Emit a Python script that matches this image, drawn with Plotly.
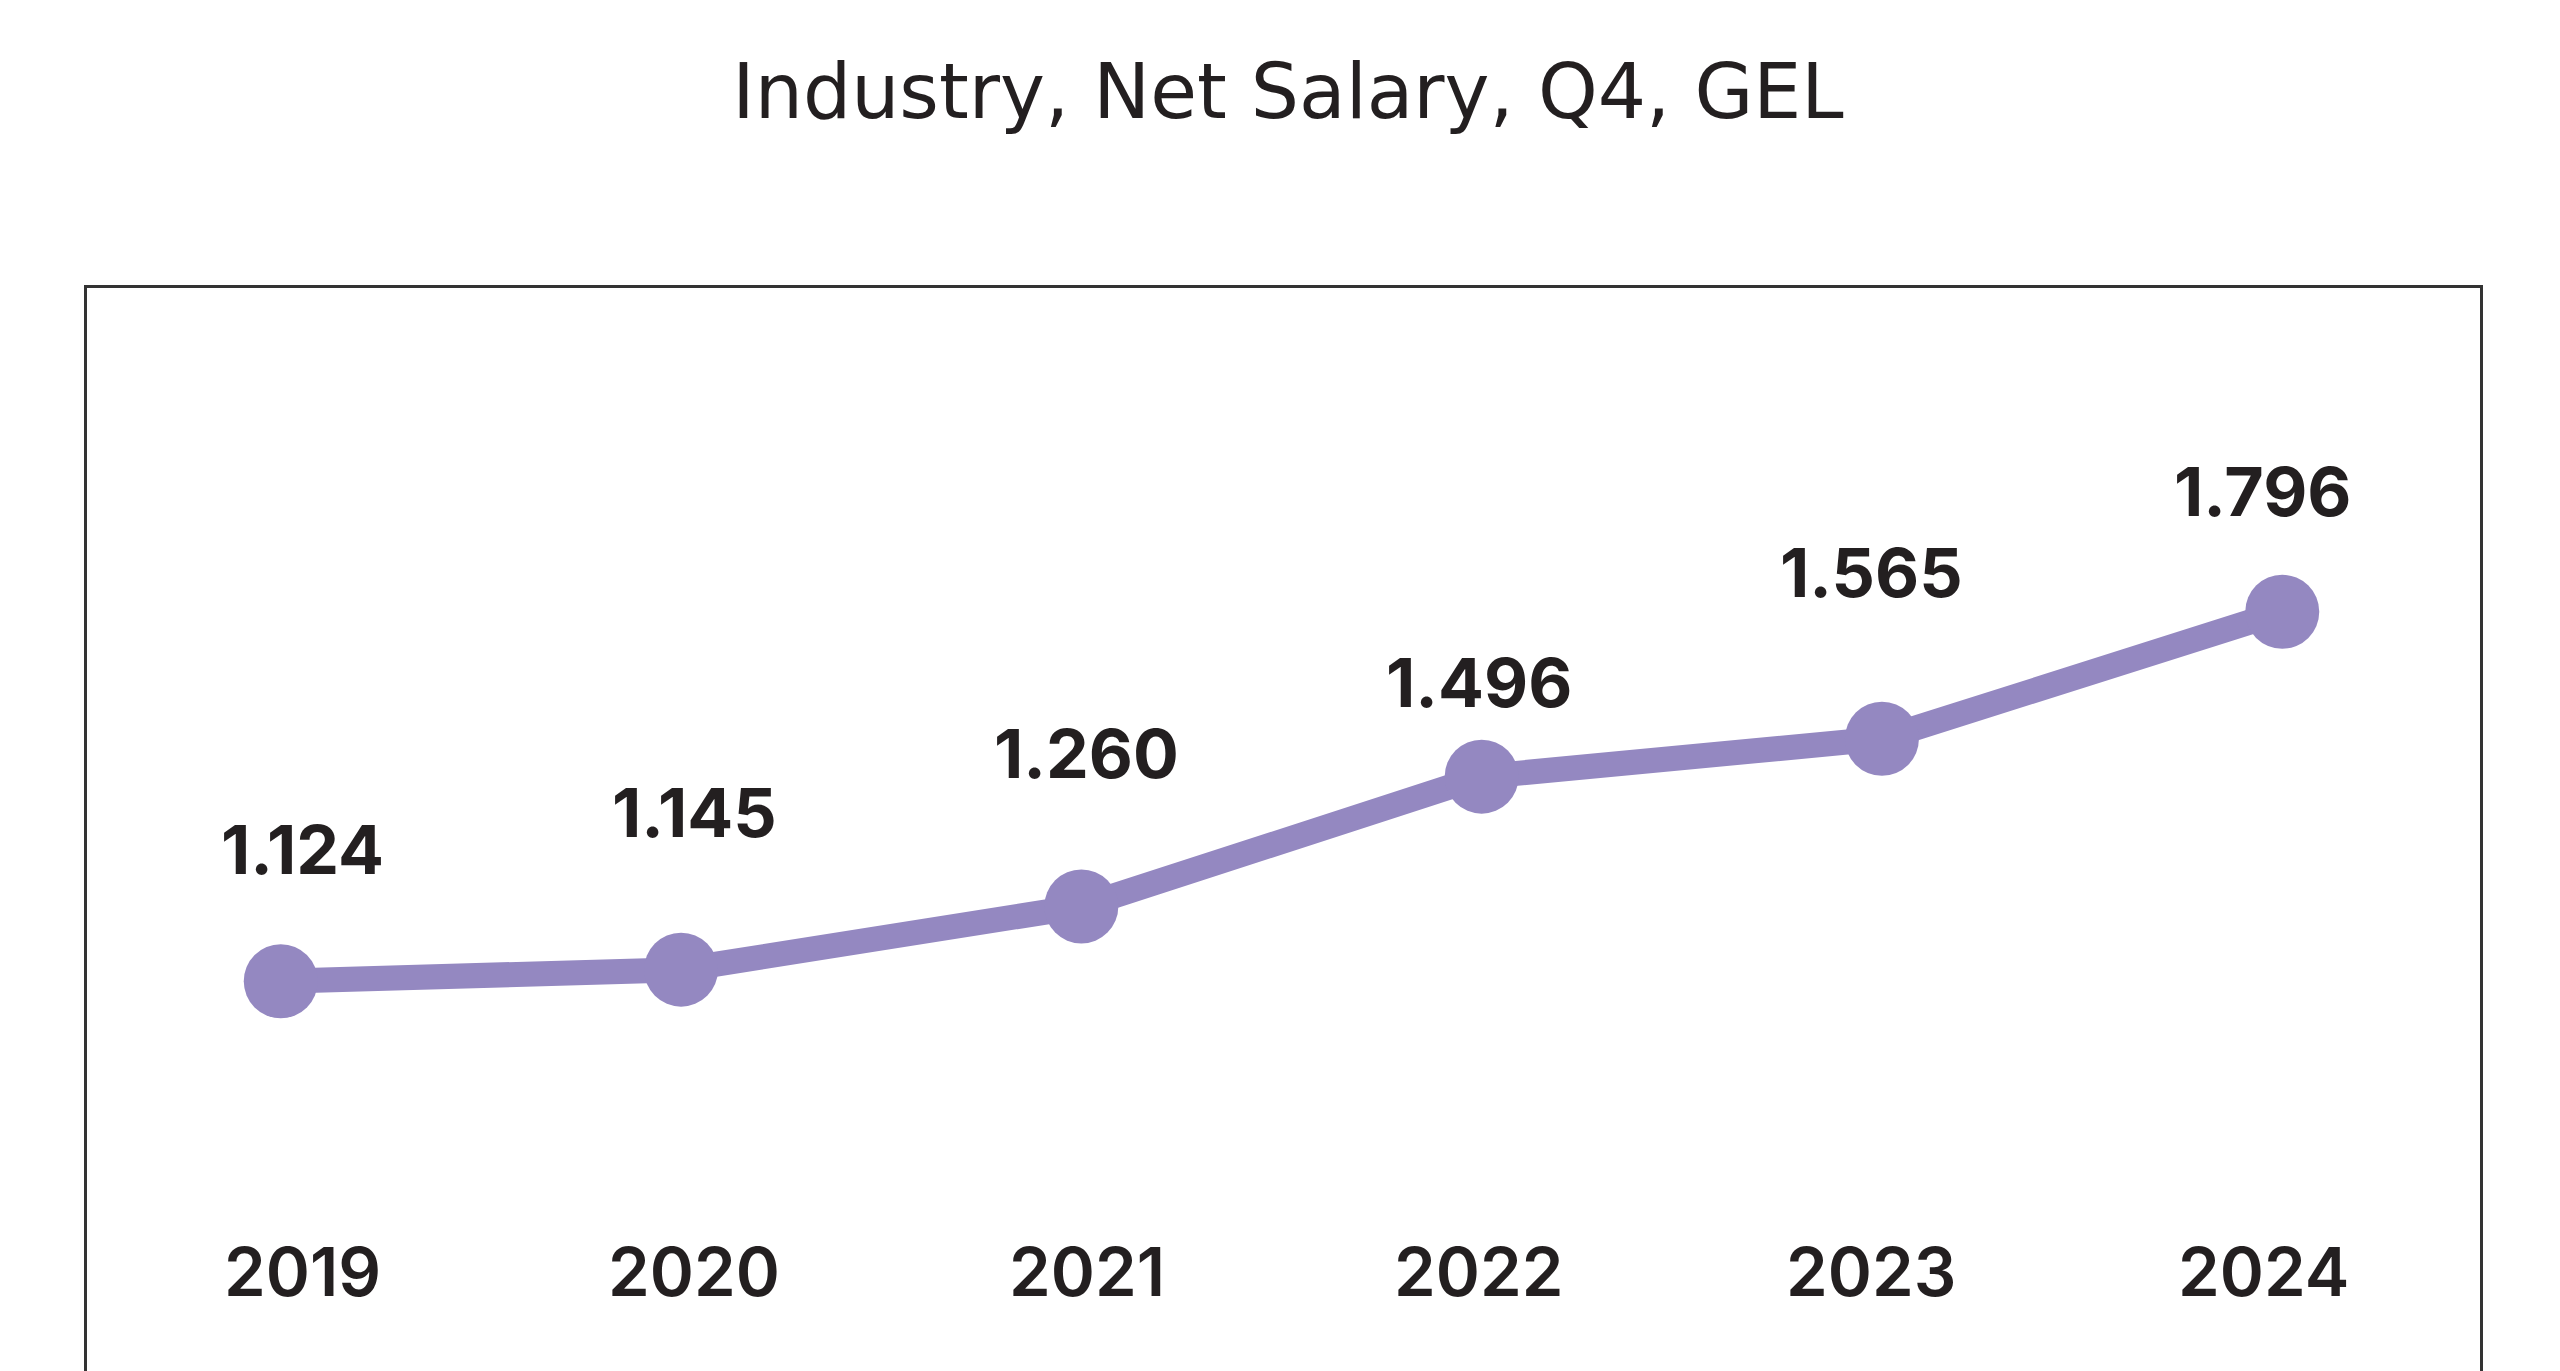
import plotly.graph_objects as go

years = [2019, 2020, 2021, 2022, 2023, 2024]
year_labels = ["2019", "2020", "2021", "2022", "2023", "2024"]
salary = [1.124, 1.145, 1.260, 1.496, 1.565, 1.796]
salary_labels = ["1.124", "1.145", "1.260", "1.496", "1.565", "1.796"]

# vertical offsets (px) of each value label above its marker
label_offsets = [132, 158, 153, 95, 167, 121]

LINE_COLOR = "#9488c1"
TEXT_COLOR = "#231f20"

fig = go.Figure()
fig.add_trace(go.Scatter(
    x=years, y=salary, mode="lines+markers",
    line=dict(color=LINE_COLOR, width=25),
    marker=dict(color=LINE_COLOR, size=74),
    hoverinfo="skip", showlegend=False,
))

annotations = []
for x, y, t, off in zip(years, salary, salary_labels, label_offsets):
    annotations.append(dict(
        x=x, y=y, xref="x2", yref="y", text=t, showarrow=False,
        yshift=off, yanchor="middle",
        font=dict(family="Inter", size=68, color=TEXT_COLOR, weight=700),
    ))
for x, t in zip(years, year_labels):
    annotations.append(dict(
        x=x, y=0.096, xref="x2", yref="paper", text=t, showarrow=False,
        yanchor="middle",
        font=dict(family="Inter", size=67, color=TEXT_COLOR, weight=600),
    ))

fig.update_layout(
    width=2560, height=1371,
    margin=dict(l=79, r=88, t=280, b=3),
    paper_bgcolor="white", plot_bgcolor="white",
    title=dict(
        text="Industry, Net Salary, Q4, GEL",
        x=0.5, xanchor="center", y=1 - 83 / 1371, yanchor="middle",
        yref="container",
        font=dict(family="DejaVu Sans", size=76, color=TEXT_COLOR),
    ),
    xaxis=dict(range=[2018.516, 2024.494], showgrid=False, zeroline=False,
               showticklabels=False, ticks="", showline=True, mirror=True,
               linecolor="#333333", linewidth=3),
    xaxis2=dict(range=[2018.4516, 2024.5522], overlaying="x", visible=False),
    yaxis=dict(range=[0.4061, 2.3847], showgrid=False, zeroline=False,
               showticklabels=False, ticks="", showline=True, mirror=True,
               linecolor="#333333", linewidth=3),
    annotations=annotations,
)

fig.write_html("out.html")
